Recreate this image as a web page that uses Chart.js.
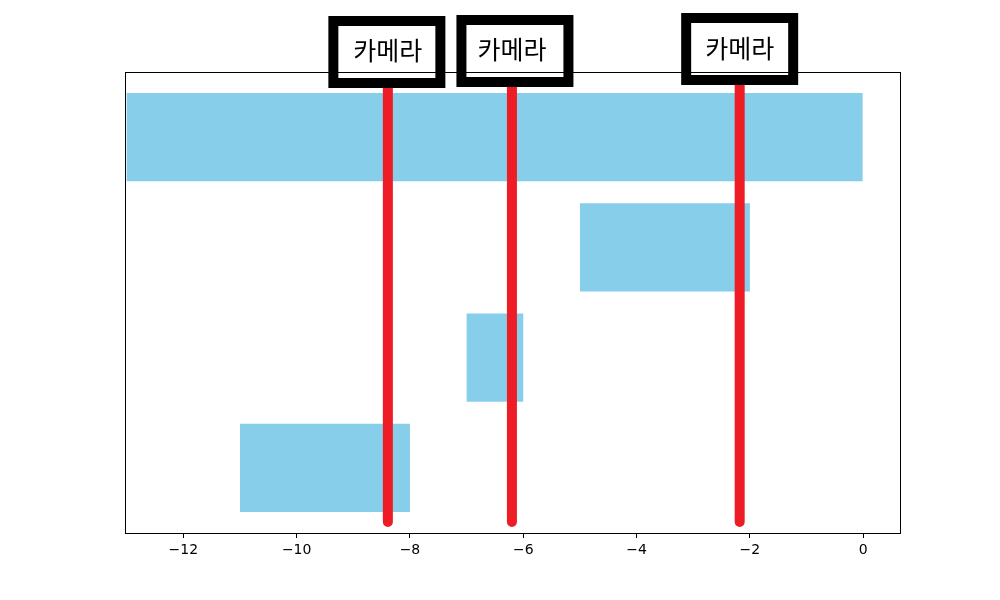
<!DOCTYPE html>
<html>
<head>
<meta charset="utf-8">
<script src="https://cdn.jsdelivr.net/npm/chart.js@4"></script>
<style>
  html, body { margin: 0; padding: 0; background: #fff; }
  #wrap { width: 1000px; height: 600px; }
</style>
</head>
<body>
<div id="wrap"><canvas id="bar-chart"></canvas></div>
<script>
// data
const rows = [0, 1, 2, 3];
const barStart = [-13, -5, -7, -11];
const barEnd = [0, -2, -6, -8];
const cameraX = [-8.39, -6.2, -2.18];
const cameraLabel = ["카메라", "카메라", "카메라"];
const xTicks = [-12, -10, -8, -6, -4, -2, 0];
const lineTop = -0.8;
const lineBottom = 3.49;

// label box placement (pixels, relative to the line)
const boxShift = [[-1, 52], [3, 51], [0, 49]];
const textY = [50, 49, 48];

const barData = rows.map((r, i) => ({ x: [barStart[i], barEnd[i]], y: r }));

const cameraSets = cameraX.map((x) => ({
  type: "line",
  data: [{ x: x, y: lineTop }, { x: x, y: lineBottom }],
  borderColor: "#ee1c25",
  borderWidth: 10,
  borderCapStyle: "round",
  pointRadius: 0,
  clip: false,
  order: 0,
}));

const labelBoxes = {
  id: "labelBoxes",
  afterDatasetsDraw(chart) {
    const ctx = chart.ctx;
    const xs = chart.scales.x;
    ctx.save();
    cameraX.forEach((x, i) => {
      const px = xs.getPixelForValue(x);
      const bx = px + boxShift[i][0];
      const by = boxShift[i][1];
      const w = 117, h = 72;
      ctx.fillStyle = "#fff";
      ctx.fillRect(bx - w / 2, by - h / 2, w, h);
      ctx.strokeStyle = "#000";
      ctx.lineWidth = 10;
      ctx.strokeRect(bx - w / 2 + 5, by - h / 2 + 5, w - 10, h - 10);
      ctx.fillStyle = "#000";
      ctx.font = '25px "Noto Sans CJK KR"';
      ctx.textAlign = "center";
      ctx.textBaseline = "middle";
      ctx.fillText(cameraLabel[i], px, textY[i]);
    });
    ctx.restore();
  },
  afterDraw(chart) {
    const a = chart.chartArea;
    const ctx = chart.ctx;
    ctx.save();
    ctx.strokeStyle = "#000";
    ctx.lineWidth = 1;
    ctx.strokeRect(Math.round(a.left) + 0.5, Math.round(a.top) + 0.5,
      Math.round(a.right - a.left), Math.round(a.bottom - a.top));
    ctx.restore();
  },
};

const ctxBar = document.querySelector("#bar-chart").getContext("2d");

const barChart = new Chart(ctxBar, {
  type: "bar",
  data: {
    datasets: [
      {
        data: barData,
        backgroundColor: "#87ceeb",
        borderWidth: 0,
        barPercentage: 0.8,
        categoryPercentage: 1,
        order: 1,
      },
      ...cameraSets,
    ],
  },
  options: {
    indexAxis: "y",
    responsive: true,
    maintainAspectRatio: false,
    animation: false,
    layout: { padding: { left: 125, right: 100, top: 72, bottom: 0 } },
    plugins: { legend: { display: false }, tooltip: { enabled: false } },
    scales: {
      x: {
        type: "linear",
        min: -13.03,
        max: 0.65,
        afterBuildTicks: (scale) => {
          scale.ticks = xTicks.map((v) => ({ value: v }));
        },
        afterFit: (scale) => {
          scale.height = 67;
        },
        border: { display: false },
        grid: {
          drawOnChartArea: false,
          drawTicks: true,
          tickLength: 5,
          color: "#000",
        },
        ticks: {
          color: "#000",
          padding: 4,
          font: { family: "DejaVu Sans", size: 14 },
          callback: (v) => (v < 0 ? "\u2212" + Math.abs(v) : String(v)),
        },
      },
      y: {
        type: "linear",
        min: -0.59,
        max: 3.59,
        reverse: true,
        offset: false,
        display: false,
        afterBuildTicks: (scale) => {
          scale.ticks = rows.map((v) => ({ value: v }));
        },
      },
    },
  },
  plugins: [labelBoxes],
});
</script>
</body>
</html>
